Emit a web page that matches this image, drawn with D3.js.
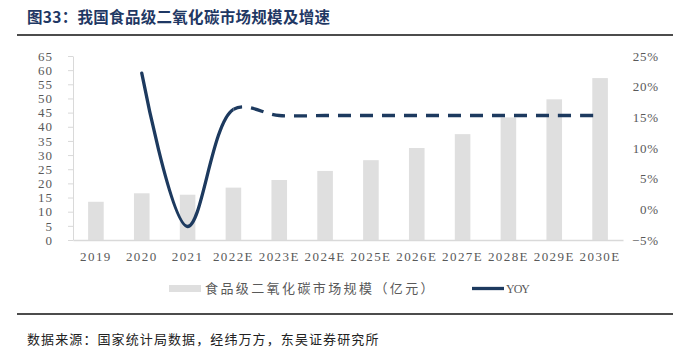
<!DOCTYPE html>
<html>
<head>
<meta charset="utf-8">
<script src="https://cdn.jsdelivr.net/npm/d3@7"></script>
<style>
  html, body { margin: 0; padding: 0; background: #fff; }
  svg { display: block; }
</style>
</head>
<body>
<div id="chart"></div>
<script>
const years = ["2019", "2020", "2021", "2022E", "2023E", "2024E", "2025E", "2026E", "2027E", "2028E", "2029E", "2030E"];
const marketSize = [13.5, 16.5, 16.0, 18.5, 21.2, 24.4, 28.2, 32.5, 37.4, 43.3, 49.7, 57.2];
const yoy = [null, 22.2, -2.8, 16.3, 15.3, 15.3, 15.3, 15.3, 15.3, 15.3, 15.3, 15.3];
const leftTicks = [0, 5, 10, 15, 20, 25, 30, 35, 40, 45, 50, 55, 60, 65];
const rightTicks = [-5, 0, 5, 10, 15, 20, 25];

const title = "图33：我国食品级二氧化碳市场规模及增速";
const barLabel = "食品级二氧化碳市场规模（亿元）";
const lineLabel = "YOY";
const source = "数据来源：国家统计局数据，经纬万方，东吴证券研究所";

const width = 673, height = 363;
const navy = "#1d3a5f";
const grey = "#595959";
const numFont = "'Liberation Serif', 'DejaVu Serif', serif";
const cjkFont = "'Noto Sans CJK SC', sans-serif";

const svg = d3.select("#chart").append("svg")
  .attr("width", width)
  .attr("height", height)
  .attr("viewBox", [0, 0, width, height]);

// title + rules
svg.append("text")
  .attr("x", 27).attr("y", 23)
  .attr("fill", "#1f3864")
  .attr("font-family", cjkFont)
  .attr("font-weight", 700)
  .attr("font-size", 15.5)
  .attr("letter-spacing", 0.3)
  .text(title);

svg.append("line").attr("x1", 17).attr("x2", width).attr("y1", 35).attr("y2", 35)
  .attr("stroke", "#111").attr("stroke-width", 1.5);
svg.append("line").attr("x1", 17).attr("x2", width).attr("y1", 314).attr("y2", 314)
  .attr("stroke", "#111").attr("stroke-width", 1.5);

svg.append("text")
  .attr("x", 27).attr("y", 344)
  .attr("fill", "#222")
  .attr("font-family", cjkFont)
  .attr("font-size", 13)
  .attr("letter-spacing", 1.1)
  .text(source);

// scales
const x = d3.scaleBand().domain(years).range([73, 623]).paddingInner(0.66).paddingOuter(0.33);
const yL = d3.scaleLinear().domain([0, 65]).range([240, 56]);
const yR = d3.scaleLinear().domain([-5, 25]).range([240, 56]);

// bars
svg.append("g")
  .selectAll("rect")
  .data(years)
  .join("rect")
  .attr("x", (d) => x(d))
  .attr("width", x.bandwidth())
  .attr("y", (d, i) => yL(marketSize[i]))
  .attr("height", (d, i) => yL(0) - yL(marketSize[i]))
  .attr("fill", "#dfdfdf");

// left axis
svg.append("g")
  .attr("transform", "translate(73,0)")
  .call(d3.axisLeft(yL).tickValues(leftTicks).tickSize(5).tickSizeOuter(0).tickPadding(15))
  .call((g) => g.selectAll("line,path").attr("stroke", "#d9d9d9"))
  .call((g) => g.selectAll("text")
    .attr("fill", grey).attr("font-family", numFont).attr("font-size", 13).attr("letter-spacing", 1));

// right axis
svg.append("g")
  .attr("transform", "translate(623,0)")
  .call(d3.axisRight(yR).tickValues(rightTicks).tickSize(0).tickPadding(36).tickFormat((d) => (d < 0 ? "\u2212" + Math.abs(d) : d) + "%"))
  .call((g) => g.select(".domain").remove())
  .call((g) => g.selectAll("text")
    .attr("text-anchor", "end")
    .attr("fill", grey).attr("font-family", numFont).attr("font-size", 13).attr("letter-spacing", 0.8));

// x axis
svg.append("g")
  .attr("transform", "translate(0,240)")
  .call(d3.axisBottom(x).tickSize(0).tickSizeOuter(0).tickPadding(12))
  .call((g) => g.select(".domain").attr("stroke", "#d9d9d9").attr("stroke-width", 1.5))
  .call((g) => g.selectAll("text")
    .attr("fill", grey).attr("font-family", numFont).attr("font-size", 13).attr("letter-spacing", 1.4));

// YOY line: smoothed, solid up to 2022E, dashed after
const pts = years.map((d, i) => ({year: d, value: yoy[i]})).filter((d) => d.value != null);
const line = d3.line()
  .x((d) => x(d.year) + x.bandwidth() / 2)
  .y((d) => yR(d.value))
  .curve(d3.curveCatmullRom.alpha(0.5));

const splitX = x("2022E") + x.bandwidth() / 2;
const defs = svg.append("defs");
defs.append("clipPath").attr("id", "clip-solid")
  .append("rect").attr("x", 0).attr("y", 0).attr("width", splitX).attr("height", height);
defs.append("clipPath").attr("id", "clip-dash")
  .append("rect").attr("x", splitX).attr("y", 0).attr("width", width - splitX).attr("height", height);

svg.append("path")
  .datum(pts)
  .attr("clip-path", "url(#clip-solid)")
  .attr("fill", "none")
  .attr("stroke", navy)
  .attr("stroke-width", 3.3)
  .attr("stroke-linecap", "round")
  .attr("d", line);

svg.append("path")
  .datum(pts)
  .attr("clip-path", "url(#clip-dash)")
  .attr("fill", "none")
  .attr("stroke", navy)
  .attr("stroke-width", 3.3)
  .attr("stroke-dasharray", "13,9")
  .attr("d", line);

// legend
const legend = svg.append("g");
legend.append("rect")
  .attr("x", 169).attr("y", 285).attr("width", 32).attr("height", 7)
  .attr("fill", "#dfdfdf");
legend.append("text")
  .attr("x", 205).attr("y", 293)
  .attr("fill", grey)
  .attr("font-family", cjkFont)
  .attr("font-size", 13)
  .attr("letter-spacing", 2.4)
  .text(barLabel);
legend.append("line")
  .attr("x1", 472).attr("x2", 504).attr("y1", 288.5).attr("y2", 288.5)
  .attr("stroke", navy).attr("stroke-width", 3.3);
legend.append("text")
  .attr("x", 506).attr("y", 293)
  .attr("fill", grey)
  .attr("font-family", numFont)
  .attr("font-size", 12)
  .attr("textLength", 24)
  .text(lineLabel);
</script>
</body>
</html>
